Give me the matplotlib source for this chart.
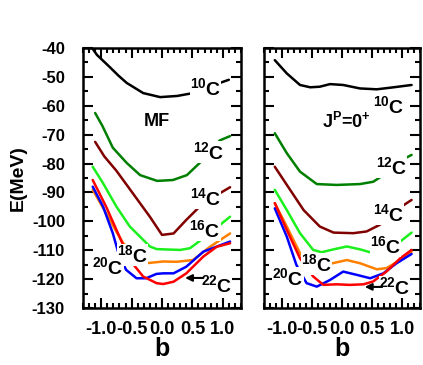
import matplotlib
matplotlib.use("Agg")
import matplotlib.pyplot as plt
from matplotlib.ticker import MultipleLocator, FixedLocator, FixedFormatter

plt.rcParams['font.family'] = ['Liberation Sans', 'DejaVu Sans']
plt.rcParams['font.weight'] = 'bold'
plt.rcParams['mathtext.fontset'] = 'custom'
plt.rcParams['mathtext.rm'] = 'Liberation Sans:bold'
plt.rcParams['mathtext.bf'] = 'Liberation Sans:bold'
plt.rcParams['mathtext.it'] = 'Liberation Sans:bold'
plt.rcParams['axes.unicode_minus'] = False

# ---------------- data ----------------
isotopes = ['10', '12', '14', '16', '18', '20', '22']
colors = ['#000000', '#007f00', '#800000', '#1cf01c', '#ff8000', '#0000ff', '#ff0000']

# Left panel (MF)
mf_b_10 = [-1.15, -1.07, -0.86, -0.72, -0.58, -0.31, -0.03, 0.25, 0.51, 0.74, 0.95, 1.10]
mf_e_10 = [-40.0, -42.4, -46.6, -49.5, -52.1, -55.6, -57.0, -56.6, -55.6, -54.5, -52.1, -51.0]
mf_b_12 = [-1.10, -0.98, -0.81, -0.58, -0.36, -0.08, 0.18, 0.41, 0.62, 0.95, 1.12]
mf_e_12 = [-62.5, -67.0, -74.5, -79.8, -84.0, -86.0, -85.7, -84.0, -79.8, -72.0, -70.5]
mf_b_14 = [-1.10, -0.95, -0.75, -0.48, -0.20, 0.00, 0.19, 0.40, 0.62, 0.95, 1.12]
mf_e_14 = [-72.5, -77.5, -82.5, -90.3, -98.4, -104.7, -104.2, -99.5, -94.9, -90.3, -88.2]
mf_b_16 = [-1.14, -0.97, -0.75, -0.53, -0.31, -0.20, -0.09, 0.02, 0.30, 0.46, 0.57, 0.95, 1.12]
mf_e_16 = [-81.1, -86.8, -94.9, -101.8, -106.4, -108.7, -109.6, -109.7, -109.9, -109.3, -107.6, -101.3, -98.4]
mf_b_18 = [-1.14, -0.92, -0.75, -0.64, -0.40, -0.26, 0.02, 0.24, 0.51, 0.79, 1.12]
mf_e_18 = [-89.1, -97.2, -103.6, -107.5, -113.0, -114.5, -113.9, -114.0, -113.4, -108.8, -104.2]
mf_b_20 = [-1.14, -0.97, -0.81, -0.70, -0.59, -0.42, -0.26, -0.09, 0.02, 0.19, 0.40, 0.68, 1.12]
mf_e_20 = [-88.0, -94.9, -104.1, -112.2, -116.8, -119.7, -119.7, -118.2, -118.0, -118.0, -115.7, -110.5, -107.0]
mf_b_22 = [-1.14, -0.92, -0.70, -0.53, -0.31, -0.09, 0.02, 0.19, 0.40, 0.68, 0.90, 1.12]
mf_e_22 = [-85.7, -94.9, -105.3, -113.4, -119.1, -121.4, -121.7, -120.9, -118.0, -112.2, -108.8, -107.6]

# Right panel (J^P = 0^+)
j0_b_10 = [-1.12, -0.92, -0.70, -0.53, -0.37, -0.20, 0.02, 0.30, 0.58, 0.86, 1.16]
j0_e_10 = [-44.2, -48.8, -52.8, -53.6, -53.4, -52.5, -52.8, -54.0, -54.3, -53.6, -52.8]
j0_b_12 = [-1.12, -0.92, -0.70, -0.42, -0.09, 0.30, 0.52, 0.69, 0.85, 1.05, 1.16]
j0_e_12 = [-69.5, -76.4, -82.8, -87.1, -87.4, -87.1, -86.3, -84.0, -81.0, -78.2, -77.0]
j0_b_14 = [-1.12, -0.90, -0.64, -0.37, -0.14, 0.19, 0.41, 0.63, 0.99, 1.16]
j0_e_14 = [-81.1, -88.0, -96.1, -101.8, -103.9, -104.1, -103.5, -101.2, -94.9, -92.6]
j0_b_16 = [-1.12, -0.92, -0.70, -0.48, -0.34, -0.14, 0.08, 0.30, 0.52, 0.69, 0.97, 1.16]
j0_e_16 = [-89.1, -96.1, -104.1, -109.9, -110.7, -109.7, -108.7, -109.7, -111.0, -110.5, -107.0, -103.9]
j0_b_18 = [-1.12, -0.92, -0.70, -0.53, -0.35, -0.20, 0.08, 0.30, 0.58, 0.74, 0.97, 1.16]
j0_e_18 = [-93.7, -101.8, -111.0, -115.7, -116.0, -114.7, -113.4, -114.5, -116.6, -116.2, -113.4, -110.5]
j0_b_20 = [-1.12, -0.92, -0.76, -0.59, -0.42, -0.20, 0.02, 0.24, 0.47, 0.69, 0.91, 1.16]
j0_e_20 = [-95.5, -105.3, -115.1, -121.4, -122.6, -120.3, -117.4, -118.5, -119.7, -118.0, -114.5, -111.3]
j0_b_22 = [-1.12, -0.92, -0.70, -0.48, -0.31, -0.09, 0.13, 0.36, 0.52, 0.74, 0.97, 1.16]
j0_e_22 = [-93.7, -103.0, -112.8, -119.1, -122.0, -121.8, -122.0, -121.8, -120.8, -117.4, -112.8, -109.9]

xticks = [-1.0, -0.5, 0.0, 0.5, 1.0]
xtick_labels = ['-1.0', '-0.5', '0.0', '0.5', '1.0']
yticks = [-40, -50, -60, -70, -80, -90, -100, -110, -120, -130]
ytick_labels = ['-40', '-50', '-60', '-70', '-80', '-90', '-100', '-110', '-120', '-130']

# label positions (b, E) for isotope names
mf_label_pos = [(0.72, -53.8), (0.76, -76.0), (0.72, -91.9), (0.71, -103.0),
                (-0.48, -111.6), (-0.89, -115.8), (0.90, -122.0)]
j0_label_pos = [(0.77, -60.0), (0.83, -81.2), (0.78, -97.4), (0.73, -108.5),
                (-0.43, -114.7), (-0.90, -119.6), (0.88, -122.7)]

mf_series = [(mf_b_10, mf_e_10), (mf_b_12, mf_e_12), (mf_b_14, mf_e_14), (mf_b_16, mf_e_16),
             (mf_b_18, mf_e_18), (mf_b_20, mf_e_20), (mf_b_22, mf_e_22)]
j0_series = [(j0_b_10, j0_e_10), (j0_b_12, j0_e_12), (j0_b_14, j0_e_14), (j0_b_16, j0_e_16),
             (j0_b_18, j0_e_18), (j0_b_20, j0_e_20), (j0_b_22, j0_e_22)]

# ---------------- figure ----------------
W, H = 423, 365
fig = plt.figure(figsize=(W / 100, H / 100), dpi=100)
ax1 = fig.add_axes([83 / W, 1 - 308 / H, 158 / W, 260 / H])
ax2 = fig.add_axes([264 / W, 1 - 308 / H, 156 / W, 260 / H])


def style(ax, show_ylabels):
    ax.set_xlim(-1.3, 1.3)
    ax.set_ylim(-130, -40)
    ax.xaxis.set_major_locator(FixedLocator(xticks))
    ax.xaxis.set_major_formatter(FixedFormatter(xtick_labels))
    ax.xaxis.set_minor_locator(MultipleLocator(0.1))
    ax.yaxis.set_major_locator(FixedLocator(yticks))
    ax.yaxis.set_major_formatter(FixedFormatter(ytick_labels))
    ax.yaxis.set_minor_locator(MultipleLocator(5))
    ax.tick_params(which='both', direction='in', top=True, right=True, width=1.5)
    ax.tick_params(which='major', length=7)
    ax.tick_params(which='minor', length=3.6)
    ax.tick_params(axis='x', which='major', labelsize=13, pad=9)
    ax.tick_params(axis='y', which='major', labelsize=12, pad=13, labelleft=show_ylabels)
    for lab in ax.get_xticklabels() + ax.get_yticklabels():
        lab.set_fontweight('bold')
    for s in ax.spines.values():
        s.set_linewidth(1.8)
    ax.set_xlabel('b', fontsize=18, fontweight='bold', labelpad=0)


def draw(ax, series, label_pos):
    for (b, e), c in zip(series, colors):
        ax.plot(b, e, color=c, lw=1.8, solid_capstyle='round', solid_joinstyle='round')
    for iso, (lb, le) in zip(isotopes, label_pos):
        ax.text(lb, le, r'$^{%s}$C' % iso, fontsize=14, fontweight='bold',
                ha='center', va='center',
                bbox=dict(facecolor='white', edgecolor='none', pad=0.0))


draw(ax1, mf_series, mf_label_pos)
draw(ax2, j0_series, j0_label_pos)
style(ax1, True)
style(ax2, False)

ax1.set_ylabel('E(MeV)', fontsize=14, fontweight='bold', labelpad=4)

ax1.text(-0.08, -65.6, 'MF', fontsize=13, fontweight='bold', ha='center', va='center')
ax2.text(0.08, -65.6, r'J$^{\mathrm{P}}$=0$^{+}$', fontsize=13, fontweight='bold',
         ha='center', va='center')

ax1.annotate('', xy=(0.38, -119.6), xytext=(0.68, -119.6),
             arrowprops=dict(arrowstyle='-|>', color='k', lw=1.5, mutation_scale=10,
                             shrinkA=0, shrinkB=0))
ax2.annotate('', xy=(0.38, -122.7), xytext=(0.67, -122.7),
             arrowprops=dict(arrowstyle='-|>', color='k', lw=1.5, mutation_scale=10,
                             shrinkA=0, shrinkB=0))

fig.savefig('out.png', dpi=100)
